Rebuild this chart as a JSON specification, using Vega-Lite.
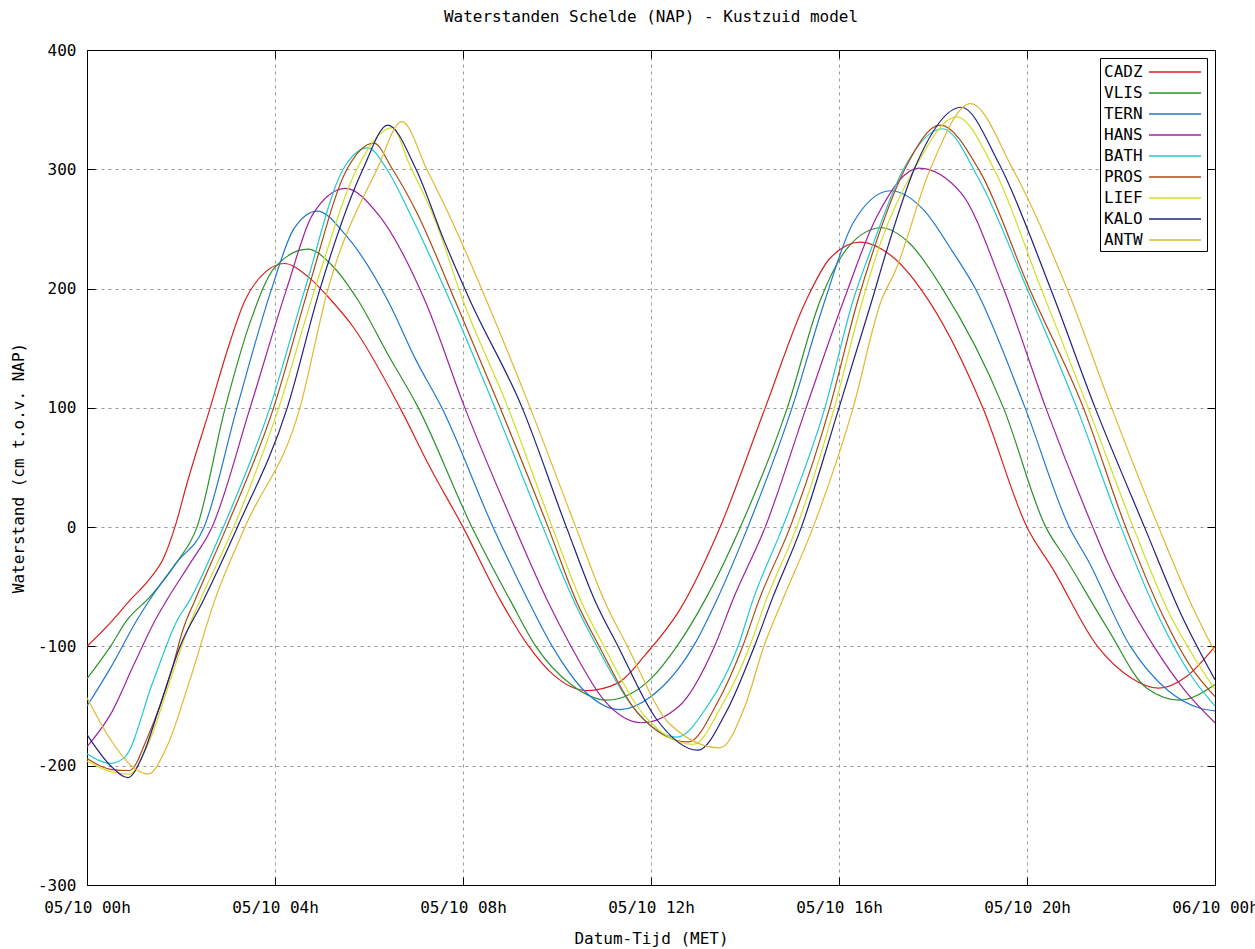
{
  "$schema": "https://vega.github.io/schema/vega-lite/v6.json",
  "width": 1128,
  "height": 835,
  "autosize": {"type": "none"},
  "padding": {"left": 87, "top": 50, "right": 40, "bottom": 64},
  "background": "white",
  "title": {"text": "Waterstanden Schelde (NAP) - Kustzuid model", "font": "DejaVu Sans Mono", "fontSize": 16, "fontWeight": "normal", "anchor": "middle", "offset": 17, "color": "black"},
  "config": {
    "view": {"stroke": "black", "strokeWidth": 1},
    "axis": {"labelFont": "DejaVu Sans Mono", "labelFontSize": 16, "labelColor": "black", "titleFont": "DejaVu Sans Mono", "titleFontSize": 16, "titleFontWeight": "normal", "titleColor": "black", "domainColor": "black", "tickColor": "black"}
  },
  "data": {"values": [
    {"s":"CADZ","t":0,"v":-100},{"s":"CADZ","t":0.5,"v":-80},{"s":"CADZ","t":0.92,"v":-61},{"s":"CADZ","t":1.32,"v":-44},{"s":"CADZ","t":1.64,"v":-25},{"s":"CADZ","t":1.87,"v":0},{"s":"CADZ","t":2.13,"v":37},{"s":"CADZ","t":2.62,"v":100},{"s":"CADZ","t":3.0,"v":150},{"s":"CADZ","t":3.36,"v":190},{"s":"CADZ","t":3.8,"v":214},{"s":"CADZ","t":4.2,"v":221},{"s":"CADZ","t":4.7,"v":210},{"s":"CADZ","t":5.2,"v":190},{"s":"CADZ","t":5.66,"v":168},{"s":"CADZ","t":6.66,"v":100},{"s":"CADZ","t":7.3,"v":50},{"s":"CADZ","t":8.0,"v":0},{"s":"CADZ","t":8.79,"v":-61},{"s":"CADZ","t":9.4,"v":-100},{"s":"CADZ","t":9.9,"v":-123},{"s":"CADZ","t":10.64,"v":-137},{"s":"CADZ","t":11.28,"v":-131},{"s":"CADZ","t":11.9,"v":-106},{"s":"CADZ","t":12.6,"v":-70},{"s":"CADZ","t":13.47,"v":0},{"s":"CADZ","t":14.43,"v":100},{"s":"CADZ","t":15.3,"v":190},{"s":"CADZ","t":15.8,"v":225},{"s":"CADZ","t":16.45,"v":239},{"s":"CADZ","t":17.1,"v":228},{"s":"CADZ","t":17.94,"v":188},{"s":"CADZ","t":19.06,"v":100},{"s":"CADZ","t":20.0,"v":0},{"s":"CADZ","t":20.55,"v":-35},{"s":"CADZ","t":21.5,"v":-100},{"s":"CADZ","t":22.2,"v":-126},{"s":"CADZ","t":22.8,"v":-135},{"s":"CADZ","t":23.4,"v":-125},{"s":"CADZ","t":24,"v":-100},
    {"s":"VLIS","t":0,"v":-127},{"s":"VLIS","t":0.5,"v":-100},{"s":"VLIS","t":0.85,"v":-78},{"s":"VLIS","t":1.35,"v":-58},{"s":"VLIS","t":1.9,"v":-30},{"s":"VLIS","t":2.34,"v":0},{"s":"VLIS","t":2.94,"v":100},{"s":"VLIS","t":3.5,"v":175},{"s":"VLIS","t":4.0,"v":218},{"s":"VLIS","t":4.7,"v":233},{"s":"VLIS","t":5.2,"v":220},{"s":"VLIS","t":5.77,"v":190},{"s":"VLIS","t":6.4,"v":145},{"s":"VLIS","t":7.05,"v":100},{"s":"VLIS","t":8.19,"v":0},{"s":"VLIS","t":9.0,"v":-61},{"s":"VLIS","t":9.55,"v":-100},{"s":"VLIS","t":10.3,"v":-132},{"s":"VLIS","t":11.06,"v":-145},{"s":"VLIS","t":12.0,"v":-127},{"s":"VLIS","t":12.55,"v":-100},{"s":"VLIS","t":13.15,"v":-61},{"s":"VLIS","t":13.9,"v":0},{"s":"VLIS","t":14.9,"v":100},{"s":"VLIS","t":15.6,"v":190},{"s":"VLIS","t":16.2,"v":235},{"s":"VLIS","t":16.9,"v":251},{"s":"VLIS","t":17.5,"v":238},{"s":"VLIS","t":18.2,"v":200},{"s":"VLIS","t":19.5,"v":100},{"s":"VLIS","t":20.4,"v":0},{"s":"VLIS","t":20.85,"v":-28},{"s":"VLIS","t":21.7,"v":-84},{"s":"VLIS","t":22.55,"v":-135},{"s":"VLIS","t":23.25,"v":-145},{"s":"VLIS","t":24,"v":-132},
    {"s":"TERN","t":0,"v":-150},{"s":"TERN","t":0.5,"v":-118},{"s":"TERN","t":1.06,"v":-78},{"s":"TERN","t":1.35,"v":-60},{"s":"TERN","t":1.9,"v":-30},{"s":"TERN","t":2.49,"v":0},{"s":"TERN","t":3.19,"v":100},{"s":"TERN","t":3.93,"v":200},{"s":"TERN","t":4.4,"v":250},{"s":"TERN","t":4.9,"v":265},{"s":"TERN","t":5.5,"v":245},{"s":"TERN","t":6.4,"v":190},{"s":"TERN","t":7.0,"v":140},{"s":"TERN","t":7.55,"v":100},{"s":"TERN","t":8.64,"v":0},{"s":"TERN","t":9.38,"v":-61},{"s":"TERN","t":9.9,"v":-100},{"s":"TERN","t":10.6,"v":-138},{"s":"TERN","t":11.34,"v":-153},{"s":"TERN","t":12.0,"v":-142},{"s":"TERN","t":12.9,"v":-100},{"s":"TERN","t":13.4,"v":-61},{"s":"TERN","t":14.06,"v":0},{"s":"TERN","t":15.0,"v":100},{"s":"TERN","t":15.7,"v":190},{"s":"TERN","t":16.3,"v":255},{"s":"TERN","t":17.1,"v":282},{"s":"TERN","t":17.8,"v":266},{"s":"TERN","t":18.4,"v":232},{"s":"TERN","t":18.9,"v":200},{"s":"TERN","t":19.96,"v":100},{"s":"TERN","t":20.9,"v":0},{"s":"TERN","t":21.3,"v":-28},{"s":"TERN","t":22.2,"v":-100},{"s":"TERN","t":23.0,"v":-137},{"s":"TERN","t":23.7,"v":-152},{"s":"TERN","t":24,"v":-154},
    {"s":"HANS","t":0,"v":-184},{"s":"HANS","t":0.5,"v":-157},{"s":"HANS","t":1.0,"v":-115},{"s":"HANS","t":1.45,"v":-78},{"s":"HANS","t":1.7,"v":-61},{"s":"HANS","t":2.2,"v":-30},{"s":"HANS","t":2.66,"v":0},{"s":"HANS","t":3.47,"v":100},{"s":"HANS","t":4.25,"v":200},{"s":"HANS","t":4.8,"v":262},{"s":"HANS","t":5.5,"v":284},{"s":"HANS","t":6.2,"v":262},{"s":"HANS","t":7.19,"v":190},{"s":"HANS","t":8.04,"v":100},{"s":"HANS","t":9.1,"v":0},{"s":"HANS","t":9.79,"v":-61},{"s":"HANS","t":10.3,"v":-100},{"s":"HANS","t":11.0,"v":-145},{"s":"HANS","t":11.8,"v":-164},{"s":"HANS","t":12.6,"v":-150},{"s":"HANS","t":13.35,"v":-100},{"s":"HANS","t":13.74,"v":-61},{"s":"HANS","t":14.43,"v":0},{"s":"HANS","t":15.3,"v":100},{"s":"HANS","t":16.1,"v":190},{"s":"HANS","t":16.8,"v":260},{"s":"HANS","t":17.7,"v":301},{"s":"HANS","t":18.6,"v":280},{"s":"HANS","t":19.5,"v":200},{"s":"HANS","t":20.4,"v":100},{"s":"HANS","t":21.4,"v":0},{"s":"HANS","t":21.7,"v":-28},{"s":"HANS","t":22.7,"v":-100},{"s":"HANS","t":23.4,"v":-139},{"s":"HANS","t":24,"v":-164},
    {"s":"BATH","t":0,"v":-190},{"s":"BATH","t":0.5,"v":-198},{"s":"BATH","t":0.8,"v":-193},{"s":"BATH","t":1.4,"v":-130},{"s":"BATH","t":1.92,"v":-78},{"s":"BATH","t":2.19,"v":-61},{"s":"BATH","t":2.9,"v":0},{"s":"BATH","t":3.89,"v":100},{"s":"BATH","t":4.64,"v":200},{"s":"BATH","t":5.45,"v":300},{"s":"BATH","t":5.98,"v":318},{"s":"BATH","t":6.38,"v":300},{"s":"BATH","t":6.87,"v":263},{"s":"BATH","t":7.72,"v":190},{"s":"BATH","t":8.68,"v":100},{"s":"BATH","t":9.7,"v":0},{"s":"BATH","t":10.35,"v":-61},{"s":"BATH","t":10.85,"v":-100},{"s":"BATH","t":11.6,"v":-150},{"s":"BATH","t":12.55,"v":-176},{"s":"BATH","t":13.2,"v":-150},{"s":"BATH","t":13.85,"v":-100},{"s":"BATH","t":14.17,"v":-61},{"s":"BATH","t":14.8,"v":0},{"s":"BATH","t":15.7,"v":100},{"s":"BATH","t":16.3,"v":190},{"s":"BATH","t":16.75,"v":240},{"s":"BATH","t":17.37,"v":300},{"s":"BATH","t":18.2,"v":334},{"s":"BATH","t":19.0,"v":290},{"s":"BATH","t":20.0,"v":200},{"s":"BATH","t":21.06,"v":100},{"s":"BATH","t":22.0,"v":0},{"s":"BATH","t":22.8,"v":-75},{"s":"BATH","t":23.5,"v":-125},{"s":"BATH","t":24,"v":-150},
    {"s":"PROS","t":0,"v":-194},{"s":"PROS","t":0.5,"v":-203},{"s":"PROS","t":0.9,"v":-204},{"s":"PROS","t":1.3,"v":-175},{"s":"PROS","t":1.8,"v":-120},{"s":"PROS","t":2.05,"v":-85},{"s":"PROS","t":2.3,"v":-61},{"s":"PROS","t":2.97,"v":0},{"s":"PROS","t":3.97,"v":100},{"s":"PROS","t":4.71,"v":200},{"s":"PROS","t":5.53,"v":300},{"s":"PROS","t":6.1,"v":322},{"s":"PROS","t":6.5,"v":300},{"s":"PROS","t":7.0,"v":265},{"s":"PROS","t":7.83,"v":190},{"s":"PROS","t":8.79,"v":100},{"s":"PROS","t":9.81,"v":0},{"s":"PROS","t":10.4,"v":-61},{"s":"PROS","t":10.9,"v":-100},{"s":"PROS","t":11.7,"v":-155},{"s":"PROS","t":12.8,"v":-180},{"s":"PROS","t":13.4,"v":-148},{"s":"PROS","t":13.95,"v":-100},{"s":"PROS","t":14.3,"v":-61},{"s":"PROS","t":14.96,"v":0},{"s":"PROS","t":15.8,"v":100},{"s":"PROS","t":16.4,"v":190},{"s":"PROS","t":16.8,"v":240},{"s":"PROS","t":17.4,"v":300},{"s":"PROS","t":18.15,"v":337},{"s":"PROS","t":19.0,"v":298},{"s":"PROS","t":20.05,"v":200},{"s":"PROS","t":21.2,"v":100},{"s":"PROS","t":22.1,"v":0},{"s":"PROS","t":22.9,"v":-75},{"s":"PROS","t":23.5,"v":-118},{"s":"PROS","t":24,"v":-142},
    {"s":"LIEF","t":0,"v":-196},{"s":"LIEF","t":0.5,"v":-205},{"s":"LIEF","t":0.9,"v":-207},{"s":"LIEF","t":1.3,"v":-182},{"s":"LIEF","t":1.8,"v":-125},{"s":"LIEF","t":2.15,"v":-85},{"s":"LIEF","t":2.41,"v":-61},{"s":"LIEF","t":3.12,"v":0},{"s":"LIEF","t":4.08,"v":100},{"s":"LIEF","t":4.85,"v":200},{"s":"LIEF","t":5.74,"v":300},{"s":"LIEF","t":6.5,"v":335},{"s":"LIEF","t":6.85,"v":305},{"s":"LIEF","t":7.4,"v":258},{"s":"LIEF","t":8.0,"v":190},{"s":"LIEF","t":8.96,"v":100},{"s":"LIEF","t":9.9,"v":0},{"s":"LIEF","t":10.5,"v":-61},{"s":"LIEF","t":11.0,"v":-100},{"s":"LIEF","t":11.8,"v":-155},{"s":"LIEF","t":12.9,"v":-182},{"s":"LIEF","t":13.5,"v":-150},{"s":"LIEF","t":14.1,"v":-100},{"s":"LIEF","t":14.45,"v":-61},{"s":"LIEF","t":15.1,"v":0},{"s":"LIEF","t":15.9,"v":100},{"s":"LIEF","t":16.5,"v":190},{"s":"LIEF","t":16.9,"v":240},{"s":"LIEF","t":17.6,"v":300},{"s":"LIEF","t":18.5,"v":344},{"s":"LIEF","t":19.3,"v":300},{"s":"LIEF","t":20.3,"v":200},{"s":"LIEF","t":21.3,"v":100},{"s":"LIEF","t":22.26,"v":0},{"s":"LIEF","t":23.0,"v":-70},{"s":"LIEF","t":23.6,"v":-112},{"s":"LIEF","t":24,"v":-136},
    {"s":"KALO","t":0,"v":-174},{"s":"KALO","t":0.5,"v":-200},{"s":"KALO","t":0.87,"v":-210},{"s":"KALO","t":1.2,"v":-190},{"s":"KALO","t":1.5,"v":-156},{"s":"KALO","t":1.98,"v":-100},{"s":"KALO","t":2.48,"v":-61},{"s":"KALO","t":3.2,"v":0},{"s":"KALO","t":4.26,"v":100},{"s":"KALO","t":4.96,"v":200},{"s":"KALO","t":5.87,"v":300},{"s":"KALO","t":6.4,"v":337},{"s":"KALO","t":7.0,"v":300},{"s":"KALO","t":7.6,"v":240},{"s":"KALO","t":8.15,"v":190},{"s":"KALO","t":9.26,"v":100},{"s":"KALO","t":10.2,"v":0},{"s":"KALO","t":10.8,"v":-61},{"s":"KALO","t":11.3,"v":-100},{"s":"KALO","t":12.1,"v":-160},{"s":"KALO","t":13.0,"v":-187},{"s":"KALO","t":13.6,"v":-155},{"s":"KALO","t":14.2,"v":-100},{"s":"KALO","t":14.57,"v":-61},{"s":"KALO","t":15.2,"v":0},{"s":"KALO","t":16.0,"v":100},{"s":"KALO","t":16.7,"v":190},{"s":"KALO","t":17.0,"v":230},{"s":"KALO","t":17.6,"v":300},{"s":"KALO","t":18.6,"v":352},{"s":"KALO","t":19.4,"v":305},{"s":"KALO","t":20.5,"v":200},{"s":"KALO","t":21.45,"v":100},{"s":"KALO","t":22.5,"v":0},{"s":"KALO","t":23.3,"v":-75},{"s":"KALO","t":24,"v":-128},
    {"s":"ANTW","t":0,"v":-143},{"s":"ANTW","t":0.5,"v":-178},{"s":"ANTW","t":1.0,"v":-202},{"s":"ANTW","t":1.3,"v":-207},{"s":"ANTW","t":1.7,"v":-184},{"s":"ANTW","t":2.19,"v":-128},{"s":"ANTW","t":2.72,"v":-61},{"s":"ANTW","t":3.36,"v":0},{"s":"ANTW","t":4.53,"v":100},{"s":"ANTW","t":5.13,"v":200},{"s":"ANTW","t":6.17,"v":300},{"s":"ANTW","t":6.7,"v":340},{"s":"ANTW","t":7.23,"v":300},{"s":"ANTW","t":7.9,"v":245},{"s":"ANTW","t":8.5,"v":190},{"s":"ANTW","t":9.43,"v":100},{"s":"ANTW","t":10.4,"v":0},{"s":"ANTW","t":11.0,"v":-61},{"s":"ANTW","t":11.5,"v":-100},{"s":"ANTW","t":12.4,"v":-165},{"s":"ANTW","t":13.47,"v":-185},{"s":"ANTW","t":14.0,"v":-150},{"s":"ANTW","t":14.4,"v":-100},{"s":"ANTW","t":14.8,"v":-61},{"s":"ANTW","t":15.45,"v":0},{"s":"ANTW","t":16.3,"v":100},{"s":"ANTW","t":16.9,"v":190},{"s":"ANTW","t":17.2,"v":215},{"s":"ANTW","t":17.94,"v":300},{"s":"ANTW","t":18.8,"v":355},{"s":"ANTW","t":19.7,"v":300},{"s":"ANTW","t":20.85,"v":200},{"s":"ANTW","t":21.8,"v":100},{"s":"ANTW","t":22.8,"v":0},{"s":"ANTW","t":23.5,"v":-65},{"s":"ANTW","t":24,"v":-105}
  ]},
  "layer": [
    {
      "mark": {"type": "line", "interpolate": "monotone", "strokeWidth": 1.2, "clip": true},
      "encoding": {
        "x": {"field": "t", "type": "quantitative", "scale": {"domain": [0, 24], "nice": false, "zero": false},
          "axis": {"orient": "bottom", "title": "Datum-Tijd (MET)", "values": [0, 4, 8, 12, 16, 20, 24], "labelExpr": "datum.value >= 24 ? '06/10 00h' : '05/10 ' + (datum.value < 10 ? '0' + datum.value : '' + datum.value) + 'h'", "tickSize": -8, "labelPadding": 22, "titlePadding": 15, "grid": true, "gridDash": [3, 4], "gridColor": "#999999", "gridOpacity": 1, "labelFlush": false, "labelOverlap": false}},
        "y": {"field": "v", "type": "quantitative", "scale": {"domain": [-300, 400], "nice": false, "zero": false},
          "axis": {"orient": "left", "title": "Waterstand (cm t.o.v. NAP)", "values": [-300, -200, -100, 0, 100, 200, 300, 400], "labelExpr": "'' + datum.value", "tickSize": -8, "labelPadding": 19, "titlePadding": 11, "grid": true, "gridDash": [3, 4], "gridColor": "#999999", "gridOpacity": 1, "labelFlush": false, "labelOverlap": false}},
        "color": {"field": "s", "type": "nominal",
          "scale": {"domain": ["CADZ", "VLIS", "TERN", "HANS", "BATH", "PROS", "LIEF", "KALO", "ANTW"], "range": ["#d82020", "#2a922a", "#1f78d0", "#a020a0", "#20c8d0", "#b04810", "#d0e020", "#202080", "#e0b830"]},
          "legend": {"title": null, "orient": "top-right", "offset": 8, "strokeColor": "black", "fillColor": "white", "padding": 3, "labelFont": "DejaVu Sans Mono", "labelFontSize": 16, "labelColor": "black", "symbolType": "M-2.6,0H2.6", "symbolSize": 400, "symbolStrokeWidth": 1.5, "symbolOffset": 61, "labelOffset": -82, "rowPadding": 2}}
      }
    },
    {
      "mark": {"type": "point", "opacity": 0},
      "encoding": {
        "x": {"field": "t", "type": "quantitative", "axis": {"orient": "top", "title": null, "labels": false, "values": [0, 4, 8, 12, 16, 20, 24], "tickSize": -8, "grid": false}},
        "y": {"field": "v", "type": "quantitative", "axis": {"orient": "right", "title": null, "labels": false, "values": [-300, -200, -100, 0, 100, 200, 300, 400], "tickSize": -8, "grid": false}}
      }
    }
  ],
  "resolve": {"axis": {"x": "independent", "y": "independent"}}
}
